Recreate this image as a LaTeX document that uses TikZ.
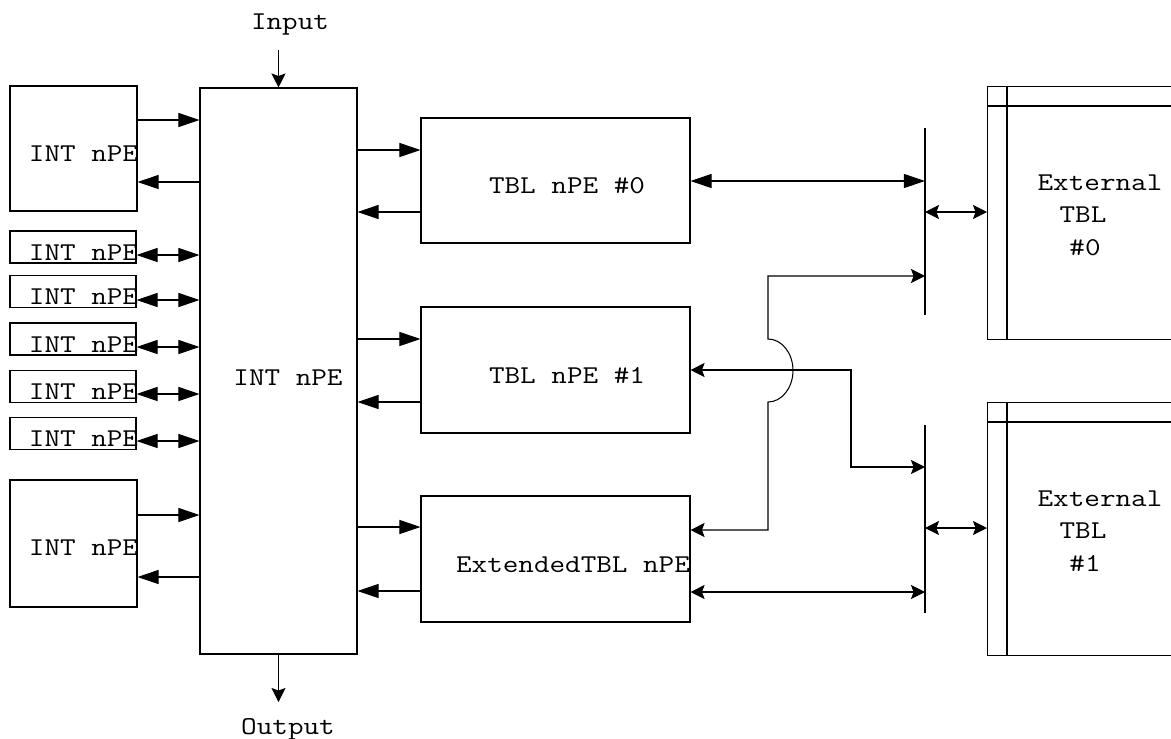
\documentclass[tikz,border=0pt]{standalone}
\usepackage{fontspec}
\setmonofont[FakeStretch=1.18]{Latin Modern Mono}
\usetikzlibrary{arrows.meta}
\tikzset{
  blk/.style={draw, line width=0.6pt, inner sep=0pt},
  sz/.style 2 args={minimum width=#1*0.02cm, minimum height=#2*0.02cm},
  txt/.style={font=\ttfamily\fontsize{14.6pt}{18pt}\selectfont, inner sep=0pt, anchor=base},
  lnk/.style={line width=0.6pt},
  bigtri/.tip={Triangle[length=12pt,width=8pt]},
  smltri/.tip={Stealth[length=8pt,width=8pt,inset=1.5pt]},
}
\begin{document}
\begin{tikzpicture}[x=0.02cm,y=-0.02cm]
  \useasboundingbox (0,0) rectangle (1171,738);
  \clip (0,0) rectangle (1171,738);
  % main processing element
  \node[blk, sz={157}{566}] (core) at (278.5,371) {};
  \node[txt] (coretxt) at (288,385) {INT nPE};
  \coordinate (inp) at (278.5,50);
  \coordinate (outp) at (278.5,702);
  \node[txt] (inptxt) at (290,29) {Input};
  \node[txt] (outptxt) at (288,734) {Output};
  \draw[lnk,-smltri] (inp) -- (core.north);
  \draw[lnk,-smltri] (core.south) -- (outp);
  % INT nPE on the left
  \node[blk, sz={127}{125}] (intA) at (73.5,148.5) {};
  \node[txt] (intAtxt) at (83.5,161) {INT nPE};
  \node[blk, sz={126}{32}] (s1) at (73,247) {};
  \node[txt] (s1txt) at (83.5,260) {INT nPE};
  \node[blk, sz={126}{32}] (s2) at (73,291.5) {};
  \node[txt] (s2txt) at (83.5,304.5) {INT nPE};
  \node[blk, sz={126}{32}] (s3) at (73,339) {};
  \node[txt] (s3txt) at (83.5,352) {INT nPE};
  \node[blk, sz={126}{32}] (s4) at (73,386.5) {};
  \node[txt] (s4txt) at (83.5,399.5) {INT nPE};
  \node[blk, sz={126}{32}] (s5) at (73,433.5) {};
  \node[txt] (s5txt) at (83.5,446.5) {INT nPE};
  \node[blk, sz={127}{127}] (intB) at (73.5,543.5) {};
  \node[txt] (intBtxt) at (83.5,555) {INT nPE};
  \draw[lnk,-bigtri] (intA.east |- 0,120) -- (core.west |- 0,120);
  \draw[lnk,-bigtri] (core.west |- 0,182) -- (intA.east |- 0,182);
  \draw[lnk,{bigtri}-{bigtri}] (s1.east |- 0,255) -- (core.west |- 0,255);
  \draw[lnk,{bigtri}-{bigtri}] (s2.east |- 0,300) -- (core.west |- 0,300);
  \draw[lnk,{bigtri}-{bigtri}] (s3.east |- 0,347) -- (core.west |- 0,347);
  \draw[lnk,{bigtri}-{bigtri}] (s4.east |- 0,394) -- (core.west |- 0,394);
  \draw[lnk,{bigtri}-{bigtri}] (s5.east |- 0,441) -- (core.west |- 0,441);
  \draw[lnk,-bigtri] (intB.east |- 0,515) -- (core.west |- 0,515);
  \draw[lnk,-bigtri] (core.west |- 0,577) -- (intB.east |- 0,577);
  % TBL nPE
  \node[blk, sz={269}{125}] (tbl0) at (555.5,180.5) {};
  \node[txt] (tbl0txt) at (567,193) {TBL nPE \#0};
  \node[blk, sz={269}{126}] (tbl1) at (555.5,370) {};
  \node[txt] (tbl1txt) at (567,383) {TBL nPE \#1};
  \node[blk, sz={269}{126}] (etbl) at (555.5,559) {};
  \node[txt] (etbltxt) at (573,572) {ExtendedTBL nPE};
  \draw[lnk,-bigtri] (core.east |- 0,150) -- (tbl0.west |- 0,150);
  \draw[lnk,-bigtri] (tbl0.west |- 0,212) -- (core.east |- 0,212);
  \draw[lnk,-bigtri] (core.east |- 0,339) -- (tbl1.west |- 0,339);
  \draw[lnk,-bigtri] (tbl1.west |- 0,402) -- (core.east |- 0,402);
  \draw[lnk,-bigtri] (core.east |- 0,527) -- (etbl.west |- 0,527);
  \draw[lnk,-bigtri] (etbl.west |- 0,591) -- (core.east |- 0,591);
  % buses
  \coordinate (b0t) at (925,128);
  \coordinate (b0b) at (925,315);
  \coordinate (b1t) at (925,425);
  \coordinate (b1b) at (925,613);
  \draw[lnk] (b0t) -- (b0b);
  \draw[lnk] (b1t) -- (b1b);
  % external TBL
  \node[blk, sz={200}{253}, anchor=north west] (ext0) at (987,86) {};
  \draw[lnk] (ext0.west |- 0,106) -- (ext0.east |- 0,106);
  \draw[lnk] (1007,0 |- ext0.north) -- (1007,0 |- ext0.south);
  \node[txt] (ext0a) at (1100,190) {External};
  \node[txt] (ext0b) at (1083,222) {TBL};
  \node[txt] (ext0c) at (1085,255) {\#0};
  \node[blk, sz={200}{253}, anchor=north west] (ext1) at (987,402) {};
  \draw[lnk] (ext1.west |- 0,422) -- (ext1.east |- 0,422);
  \draw[lnk] (1007,0 |- ext1.north) -- (1007,0 |- ext1.south);
  \node[txt] (ext1a) at (1100,506) {External};
  \node[txt] (ext1b) at (1083,538) {TBL};
  \node[txt] (ext1c) at (1085,571) {\#1};
  \draw[lnk,{bigtri}-{bigtri}] (tbl0.east |- 0,181) -- (b0t |- 0,181);
  \draw[lnk,{smltri}-{smltri}] (b0t |- 0,212) -- (ext0.west |- 0,212);
  \draw[lnk,{smltri}-{smltri}] (b1t |- 0,528) -- (ext1.west |- 0,528);
  \draw[lnk,{smltri}-{smltri}] (etbl.east |- 0,592) -- (b1t |- 0,592);
  \draw[lnk,{smltri}-{smltri}] (tbl1.east |- 0,370) -- (851,370) -- (851,467) -- (b1t |- 0,467);
  \draw[lnk,{smltri}-{smltri}] (etbl.east |- 0,530) -- (768,530) -- (768,402)
    arc[start angle=-90, end angle=90, x radius=0.5cm, y radius=0.63cm] -- (768,276) -- (b0t |- 0,276);
\end{tikzpicture}
\end{document}
